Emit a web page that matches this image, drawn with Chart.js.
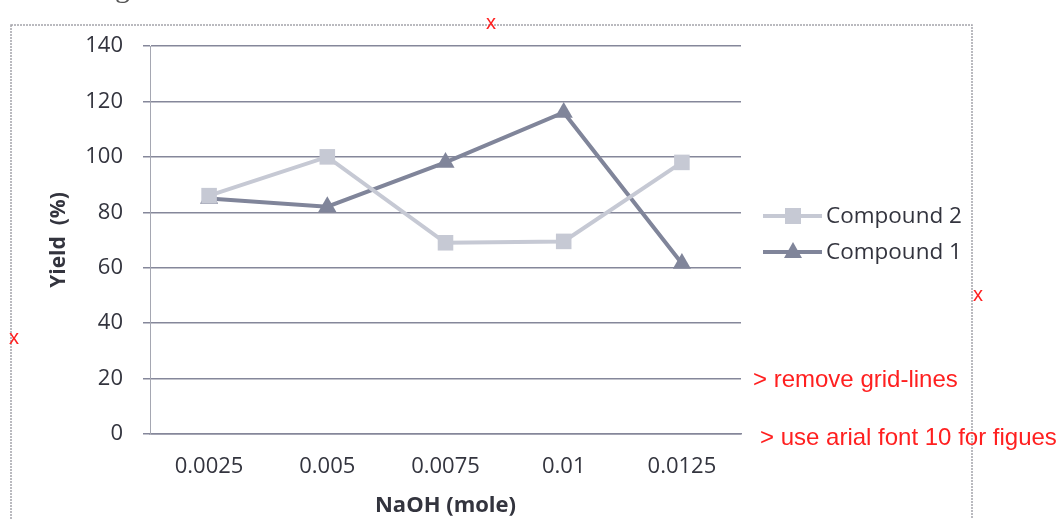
<!DOCTYPE html>
<html>
<head>
<meta charset="utf-8">
<script src="https://cdn.jsdelivr.net/npm/chart.js@4.4.1/dist/chart.umd.min.js"></script>
<style>
  html, body { margin: 0; padding: 0; background: #ffffff; }
  #wrap { position: relative; width: 1058px; height: 519px; }
</style>
</head>
<body>
<div id="wrap"><canvas id="yield-chart" width="1058" height="519"></canvas></div>
<script>
const naohLabels = ['0.0025', '0.005', '0.0075', '0.01', '0.0125'];
const compound2 = [86, 100, 69, 69.5, 98];
const compound1 = [85, 82, 98, 116, 61.5];
const yTicks = [0, 20, 40, 60, 80, 100, 120, 140];

const notes = [
    { text: '> remove grid-lines', x: 753, y: 380 },
    { text: '> use arial font 10 for figues', x: 760, y: 438 }
];
const crossMarks = [
    { x: 491, y: 23 },
    { x: 14, y: 338 },
    { x: 978, y: 295 }
];

const LIGHT = '#c6c9d4';
const DARK = '#80859a';
const TEXT = '#33343e';
const FONT = '"Open Sans", Lato, sans-serif';

// scanned-page decorations: outer frame, legend, red reviewer notes
const pagePlugin = {
    id: 'page',
    beforeDraw(chart) {
        const ctx = chart.ctx;
        ctx.save();
        ctx.fillStyle = '#ffffff';
        ctx.fillRect(0, 0, chart.width, chart.height);
        ctx.strokeStyle = '#a4a4aa';
        ctx.lineWidth = 1.5;
        ctx.setLineDash([2, 1]);
        ctx.strokeRect(11, 25, 961, 510);
        ctx.restore();
    },
    afterDraw(chart) {
        const ctx = chart.ctx;
        ctx.save();

        // cut-off caption above the frame
        ctx.fillStyle = '#555555';
        ctx.font = '30px "Liberation Serif", serif';
        ctx.textBaseline = 'alphabetic';
        ctx.fillText('g', 115, -3);

        // legend
        const items = [
            { label: 'Compound 2', color: LIGHT, y: 216, shape: 'rect' },
            { label: 'Compound 1', color: DARK, y: 252, shape: 'tri' }
        ];
        items.forEach((item) => {
            ctx.strokeStyle = item.color;
            ctx.fillStyle = item.color;
            ctx.lineWidth = 4;
            ctx.beginPath();
            ctx.moveTo(763, item.y);
            ctx.lineTo(822, item.y);
            ctx.stroke();
            ctx.beginPath();
            if (item.shape === 'rect') {
                ctx.rect(785, item.y - 8, 16, 16);
            } else {
                ctx.moveTo(793, item.y - 10);
                ctx.lineTo(802, item.y + 6);
                ctx.lineTo(784, item.y + 6);
                ctx.closePath();
            }
            ctx.fill();
            ctx.fillStyle = TEXT;
            ctx.font = '22.5px ' + FONT;
            ctx.textBaseline = 'middle';
            ctx.fillText(item.label, 826, item.y + 1);
        });

        // red notes
        ctx.fillStyle = '#ff2020';
        ctx.font = '24px "Liberation Sans", Arial, sans-serif';
        ctx.textBaseline = 'middle';
        notes.forEach((n) => ctx.fillText(n.text, n.x, n.y));
        ctx.font = '20px "Liberation Sans", Arial, sans-serif';
        ctx.textAlign = 'center';
        crossMarks.forEach((m) => ctx.fillText('x', m.x, m.y));
        ctx.restore();
    }
};

new Chart(document.getElementById('yield-chart'), {
    type: 'line',
    data: {
        labels: naohLabels,
        datasets: [
            {
                label: 'Compound 2',
                data: compound2,
                borderColor: LIGHT,
                backgroundColor: LIGHT,
                borderWidth: 4,
                pointStyle: 'rect',
                pointRadius: 11,
                pointBorderWidth: 0,
                tension: 0
            },
            {
                label: 'Compound 1',
                data: compound1,
                borderColor: DARK,
                backgroundColor: DARK,
                borderWidth: 4,
                pointStyle: 'triangle',
                pointRadius: 10.5,
                pointBorderWidth: 0,
                tension: 0
            }
        ]
    },
    options: {
        responsive: false,
        animation: false,
        events: [],
        layout: {
            padding: { left: 0, top: 46, right: 317, bottom: 0 }
        },
        plugins: {
            legend: { display: false },
            tooltip: { enabled: false }
        },
        scales: {
            x: {
                offset: true,
                grid: { display: false },
                border: { display: true, color: '#85879a', width: 1.5 },
                ticks: { color: TEXT, font: { family: FONT, size: 22 }, padding: 12 },
                title: {
                    display: true,
                    text: 'NaOH (mole)',
                    color: TEXT,
                    font: { family: FONT, size: 22, weight: 'bold' },
                    padding: { top: 0, bottom: 0 }
                },
                afterFit: (scale) => { scale.height = 85; }
            },
            y: {
                min: 0,
                max: 140,
                afterBuildTicks: (scale) => { scale.ticks = yTicks.map((v) => ({ value: v })); },
                grid: {
                    color: '#85879a',
                    lineWidth: 1.5,
                    tickLength: 7,
                    drawTicks: true
                },
                border: { display: true, color: '#a5a7b2', width: 1 },
                ticks: { color: TEXT, font: { family: FONT, size: 22 }, padding: 20 },
                title: {
                    display: true,
                    text: 'Yield  (%)',
                    color: TEXT,
                    font: { family: FONT, size: 21, weight: 'bold' },
                    padding: { top: 46, bottom: 0 }
                },
                afterFit: (scale) => { scale.width = 150; }
            }
        }
    },
    plugins: [pagePlugin]
});
</script>
</body>
</html>
